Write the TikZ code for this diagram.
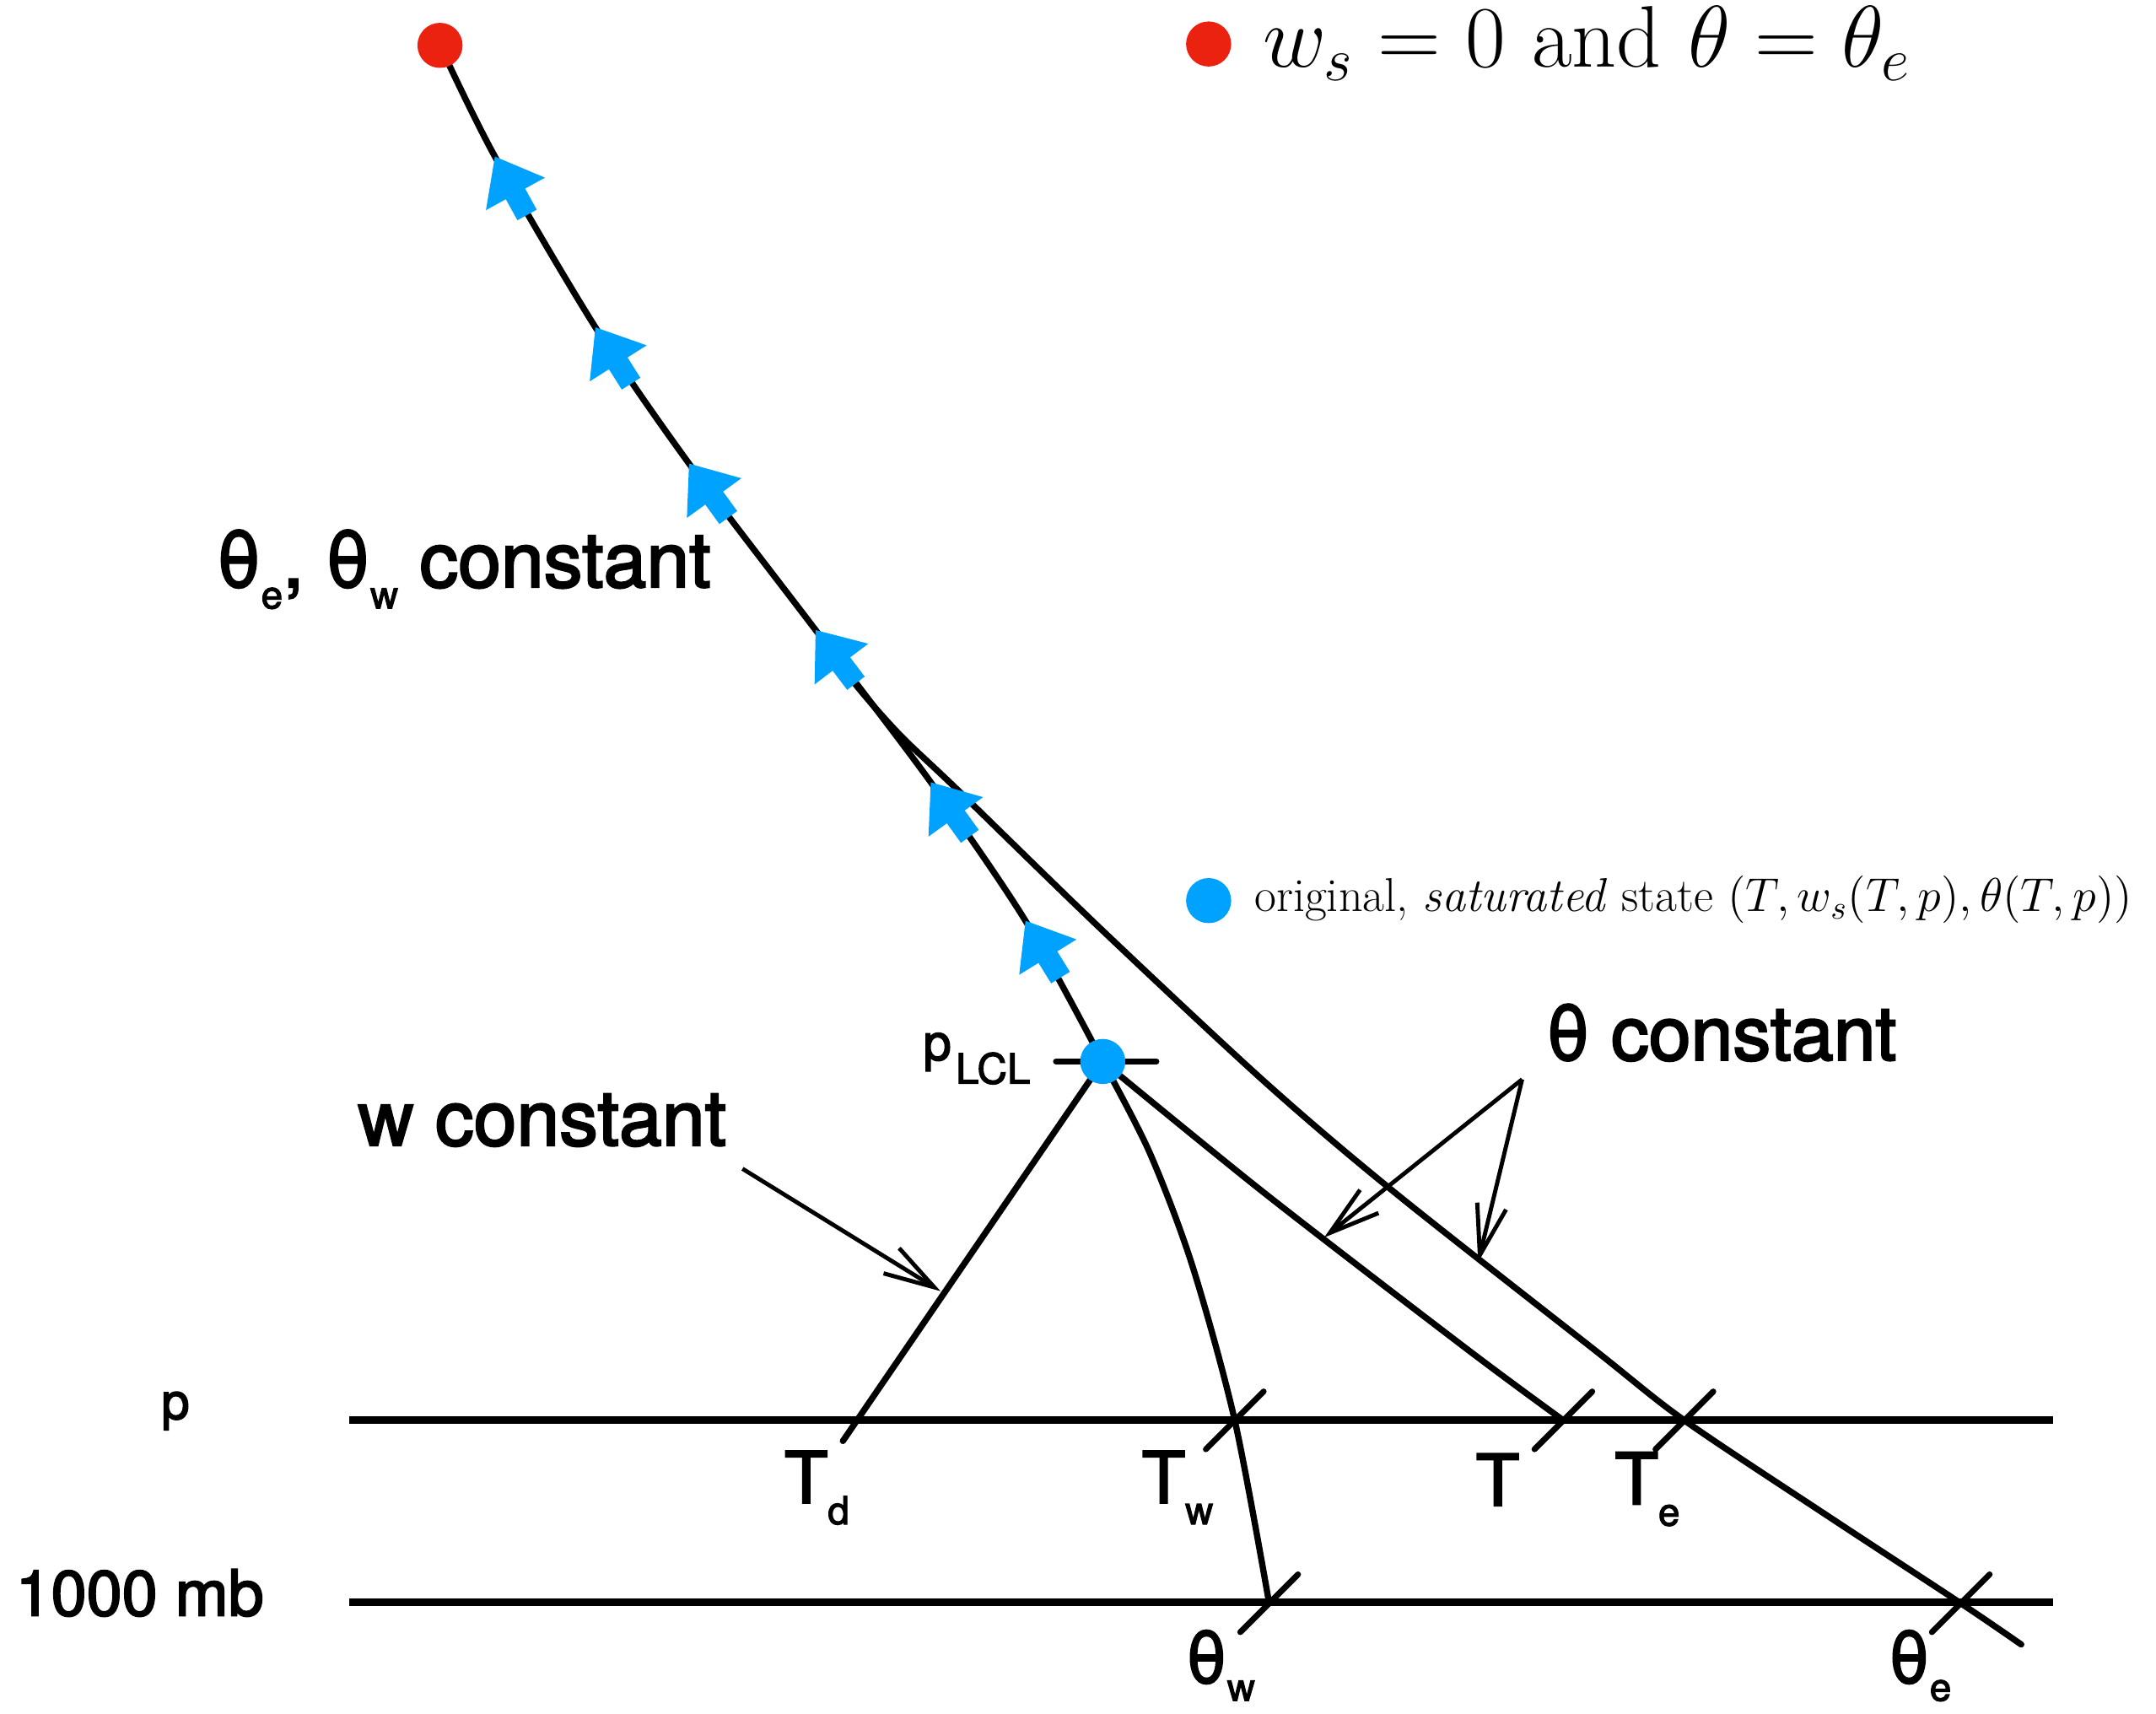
\RequirePackage{fix-cm}
\documentclass[tikz,border=0pt]{standalone}
\usepackage{fontspec}
\newfontfamily\helv[FakeBold=2.6]{TeX Gyre Heros}
\usepackage{tikz}
\usetikzlibrary{
  arrows.meta,
  decorations.markings
}
\definecolor{StateBlue}{RGB}{0,162,255}
\definecolor{TopRed}{RGB}{236,34,16}
\newcommand\lowsub[1]{\raisebox{-7.2pt}{\fontsize{13}{13}\selectfont #1}}
\newcommand\flowhead{\fill[StateBlue] (0,0) -- (-31,24.5) -- (-31,8) -- (-48.5,8) -- (-48.5,-8) -- (-31,-8) -- (-31,-24.5) -- cycle;}
\tikzset{
  curve/.style={line width=2.1pt, line join=round, line cap=round},
  level/.style={line width=2.6pt},
  tickmark/.style={line width=2pt, line cap=round},
  pointer/.style={-{Straight Barb[length=17pt,width=10pt]}, line width=1.4pt},
  dot/.style={circle, inner sep=0pt, minimum size=15.2pt},
  lbl/.style={inner sep=0pt, anchor=base west, font=\helv\fontsize{26}{30}\selectfont},
  tlbl/.style={lbl, font=\helv\fontsize{24}{28}\selectfont},
  upflow/.style={postaction={decorate, decoration={markings,
      mark=at position 0.132 with {\flowhead},
      mark=at position 0.270 with {\flowhead},
      mark=at position 0.427 with {\flowhead},
      mark=at position 0.599 with {\flowhead},
      mark=at position 0.735 with {\flowhead},
      mark=at position 0.898 with {\flowhead}}}}
}

\begin{document}
\begin{tikzpicture}[x=0.0163cm, y=-0.0163cm]
  \useasboundingbox (0,0) rectangle (1568,1246);
  \coordinate (lcl) at (802,772);
  \coordinate (top) at (320,33);
  \coordinate (Td) at (623,1033);
  \coordinate (wend) at (613,1048);
  \coordinate (Tw) at (898,1033);
  \coordinate (T) at (1137,1033);
  \coordinate (Te) at (1225,1033);
  \coordinate (thw) at (923,1166);
  \coordinate (the) at (1426,1166);
  \coordinate (pW) at (254,1033);
  \coordinate (pE) at (1493,1033);
  \coordinate (mbW) at (254,1165);
  \coordinate (mbE) at (1493,1165);

  \draw[level] (pW) -- (pE);
  \draw[level] (mbW) -- (mbE);

  \draw[curve] plot[smooth] coordinates {(599,466) (624,500) (655,535) (697,575) (800,675) (920,787) (1014,867) (1160,982) (Te) (1330,1103) (the) (1470,1196)};
  \draw[curve] plot[smooth] coordinates {(lcl) (920,868) (1068,982) (T)};
  \draw[curve] plot[smooth] coordinates {(lcl) (836,838) (867,920) (Tw) (thw)};
  \draw[curve] (lcl) -- (wend);
  \draw[curve, upflow] plot[smooth] coordinates {(lcl) (746,670) (677,569) (593,458) (501,337) (433,238) (360,114) (top)};

  \foreach \c in {Tw,T,Te,thw,the}
    \draw[tickmark, shift={(\c)}] (-21,21) -- (21,-21);
  \draw[tickmark, shift={(lcl)}] (-34,0) -- (39,0);

  \node[dot, fill=TopRed] (topdot) at (top) {};
  \node[dot, fill=StateBlue] (lcldot) at (lcl) {};

  \node[dot, fill=TopRed] (legdot1) at (879,32) {};
  \node[anchor=base west, inner sep=0pt, font=\fontsize{29.5}{35}\selectfont] (legtop) at (918,49) {$w_s = 0$ and $\theta = \theta_e$};
  \node[dot, fill=StateBlue] (legdot2) at (879,655) {};
  \node[anchor=base west, inner sep=0pt, font=\fontsize{16}{19}\selectfont] (legstate) at (912,663) {original, \textit{saturated} state $(T,w_s(T,p),\theta(T,p))$};

  \node[lbl] (constlab) at (157,427) {θ\lowsub{e}, θ\lowsub{w} constant};
  \node[lbl] (wlab) at (260,833) {w constant};
  \node[lbl, font=\helv\fontsize{25.5}{30}\selectfont] (thlab) at (1124,771) {θ constant};
  \node[lbl, font=\helv\fontsize{17}{20}\selectfont] (plab) at (117,1032) {p};
  \node[lbl, font=\helv\fontsize{21.5}{25}\selectfont] (mblab) at (11,1175) {1000 mb};
  \node[lbl, font=\helv\fontsize{17}{20}\selectfont] (lcllab) at (671,771) {p\kern1.5pt\raisebox{-7.9pt}{\fontsize{14}{14}\selectfont LCL}};
  \node[tlbl] (Tdlab) at (570,1093) {T\lowsub{d}};
  \node[tlbl] (Twlab) at (830,1093) {T\lowsub{w}};
  \node[tlbl] (Tlab) at (1073,1095) {T};
  \node[tlbl] (Telab) at (1174,1094) {T\lowsub{e}};
  \node[tlbl] (thwlab) at (862,1224) {θ\raisebox{-6pt}{\fontsize{13}{13}\selectfont w}};
  \node[tlbl] (thelab) at (1373,1224) {θ\raisebox{-6pt}{\fontsize{13}{13}\selectfont e}};

  \coordinate (wtail) at (540,850);
  \coordinate (wtip) at (684,939);
  \coordinate (thapex) at (1107,785);
  \coordinate (thtip1) at (963,900);
  \coordinate (thtip2) at (1075,918);
  \draw[pointer] (wtail) -- (wtip);
  \draw[pointer] (thapex) -- (thtip1);
  \draw[pointer] (thapex) -- (thtip2);
\end{tikzpicture}
\end{document}
